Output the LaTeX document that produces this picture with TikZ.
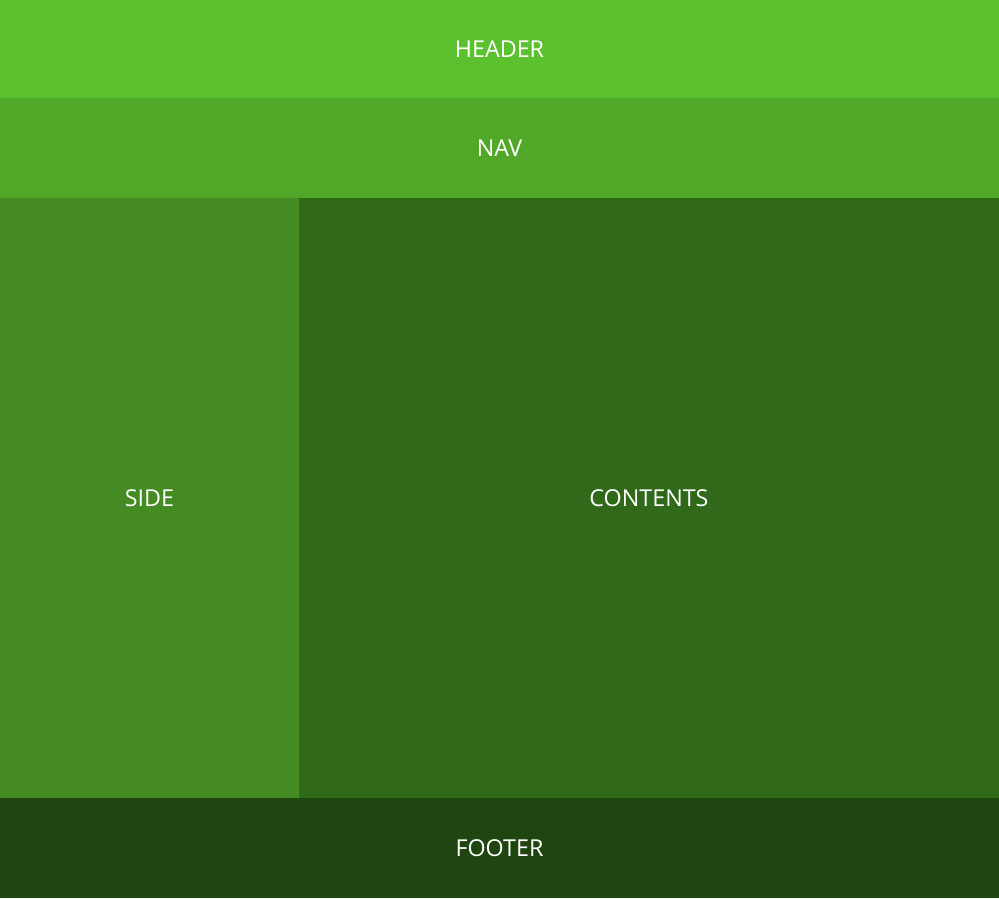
\documentclass[tikz,border=0pt]{standalone}
\usepackage{fontspec}
\setmainfont{Open Sans}
\usepackage{tikz}
\usetikzlibrary{positioning}

\definecolor{headergreen}{RGB}{92,193,47}
\definecolor{navgreen}{RGB}{81,167,40}
\definecolor{sidegreen}{RGB}{67,139,34}
\definecolor{contentsgreen}{RGB}{47,105,25}
\definecolor{footergreen}{RGB}{31,70,17}

\begin{document}
\begin{tikzpicture}[
  area/.style={inner sep=0pt, outer sep=0pt, text=white,
    font=\fontsize{23.3}{27}\selectfont},
  band/.style={area, minimum width=999pt, minimum height=100pt}
]
\node[band, fill=headergreen, minimum height=98pt, anchor=north west] (header) at (0,0) {HEADER};
\node[band, fill=navgreen, below=0pt of header] (nav) {NAV};
\node[area, fill=sidegreen, minimum width=299pt, minimum height=600pt,
  anchor=north west] (side) at (nav.south west) {SIDE};
\node[area, fill=contentsgreen, minimum width=700pt, minimum height=600pt,
  right=0pt of side] (contents) {CONTENTS};
\node[band, fill=footergreen, anchor=north west] (footer) at (side.south west) {FOOTER};
\end{tikzpicture}
\end{document}
